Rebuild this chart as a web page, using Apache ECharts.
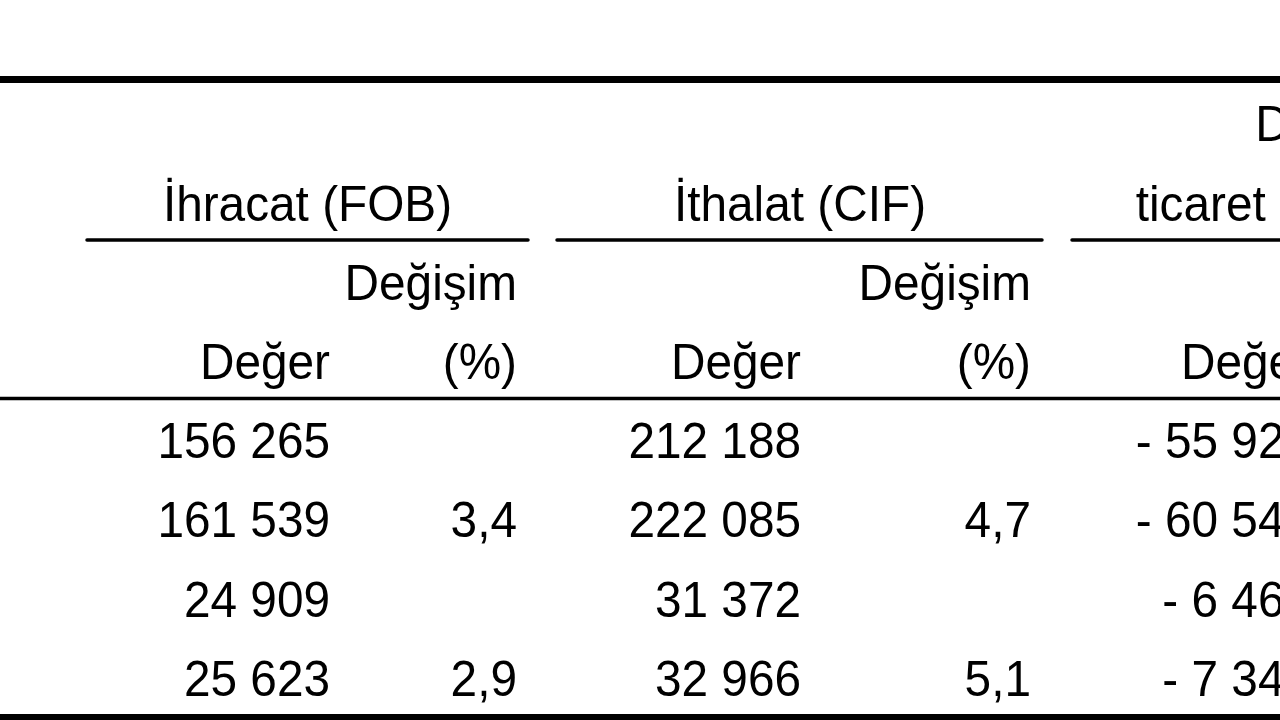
<!DOCTYPE html>
<html>
<head>
<meta charset="utf-8">
<script src="https://cdn.jsdelivr.net/npm/echarts@6/dist/echarts.min.js"></script>
<style>
html,body{margin:0;padding:0;background:#fff;}
#chart{width:1280px;height:720px;}
</style>
</head>
<body>
<div id="chart"></div>
<script>
// ---- Data ----
var groupHeaders = ['İhracat (FOB)', 'İthalat (CIF)', 'Dış', 'ticaret dengesi'];
var subHeaderTop = ['Değişim', 'Değişim'];
var subHeaderBottom = ['Değer', '(%)', 'Değer', '(%)', 'Değer'];
var exportValue = [156265, 161539, 24909, 25623];
var exportChange = [null, 3.4, null, 2.9];
var importValue = [212188, 222085, 31372, 32966];
var importChange = [null, 4.7, null, 5.1];
var balanceValue = [-55923, -60546, -6463, -7343];

// ---- Layout (pixel coordinates on hidden axes) ----
var colRight = [330, 517, 801, 1031, 1311];
var rowY = [442, 520.5, 600.5, 679.5];
var headerY = {dis: 125, group: 205, sub1: 284, sub2: 363};
var groupCenter = [307.5, 800, 1291];
var FONT = 50;
var SCALE_X = 0.955;
var Y_SHIFT = 2.5;

function fmtInt(v) {
  var neg = v < 0;
  var s = String(Math.abs(v)).replace(/\B(?=(\d{3})+(?!\d))/g, ' ');
  return (neg ? '- ' : '') + s;
}
function fmtPct(v) {
  return v == null ? '' : v.toFixed(1).replace('.', ',');
}

// Build text items
var texts = [];
function addText(x, y, t, align) { if (t !== '') texts.push({pos: [x, y], text: t, align: align}); }
addText(groupCenter[0], headerY.group, groupHeaders[0], 'center');
addText(groupCenter[1], headerY.group, groupHeaders[1], 'center');
addText(groupCenter[2], headerY.dis, groupHeaders[2], 'center');
addText(groupCenter[2], headerY.group, groupHeaders[3], 'center');
addText(colRight[1], headerY.sub1, subHeaderTop[0], 'right');
addText(colRight[3], headerY.sub1, subHeaderTop[1], 'right');
for (var i = 0; i < subHeaderBottom.length; i++) addText(colRight[i], headerY.sub2, subHeaderBottom[i], 'right');
for (var r = 0; r < rowY.length; r++) {
  addText(colRight[0], rowY[r], fmtInt(exportValue[r]), 'right');
  addText(colRight[1], rowY[r], fmtPct(exportChange[r]), 'right');
  addText(colRight[2], rowY[r], fmtInt(importValue[r]), 'right');
  addText(colRight[3], rowY[r], fmtPct(importChange[r]), 'right');
  addText(colRight[4], rowY[r], fmtInt(balanceValue[r]), 'right');
}

// Rules: [x1, y1, x2, y2, width, cap]
var rules = [
  [0, 79.5, 1280, 79.5, 7, 'butt'],
  [87, 240, 528, 240, 3.5, 'round'],
  [557, 240, 1042, 240, 3.5, 'round'],
  [1072, 240, 1510, 240, 3.5, 'round'],
  [0, 398.5, 1280, 398.5, 3.5, 'butt'],
  [0, 717.5, 1280, 717.5, 7, 'butt']
];

var chart = echarts.init(document.getElementById('chart'), null, {renderer: 'canvas'});
chart.setOption({
  animation: false,
  backgroundColor: '#ffffff',
  grid: {left: 0, right: 0, top: 0, bottom: 0},
  xAxis: {type: 'value', min: 0, max: 1280, show: false},
  yAxis: {type: 'value', min: 0, max: 720, inverse: true, show: false},
  series: [
    {
      type: 'custom',
      silent: true,
      clip: false,
      data: rules.map(function (l) { return [l[0], l[1]]; }),
      encode: {x: 0, y: 1},
      renderItem: function (params, api) {
        var l = rules[params.dataIndex];
        var p1 = api.coord([l[0], l[1]]);
        var p2 = api.coord([l[2], l[3]]);
        return {
          type: 'line',
          shape: {x1: p1[0], y1: p1[1], x2: p2[0], y2: p2[1]},
          style: {stroke: '#000', lineWidth: l[4], lineCap: l[5]}
        };
      }
    },
    {
      type: 'custom',
      silent: true,
      clip: false,
      data: texts.map(function (t) { return t.pos; }),
      encode: {x: 0, y: 1},
      renderItem: function (params, api) {
        var t = texts[params.dataIndex];
        var p = api.coord(t.pos);
        return {
          type: 'text',
          x: p[0],
          y: p[1] + Y_SHIFT,
          scaleX: SCALE_X,
          style: {
            text: t.text,
            fill: '#000',
            fontSize: FONT,
            fontFamily: '"Liberation Sans", Arial, sans-serif',
            align: t.align,
            verticalAlign: 'middle'
          }
        };
      }
    }
  ]
});
</script>
</body>
</html>
